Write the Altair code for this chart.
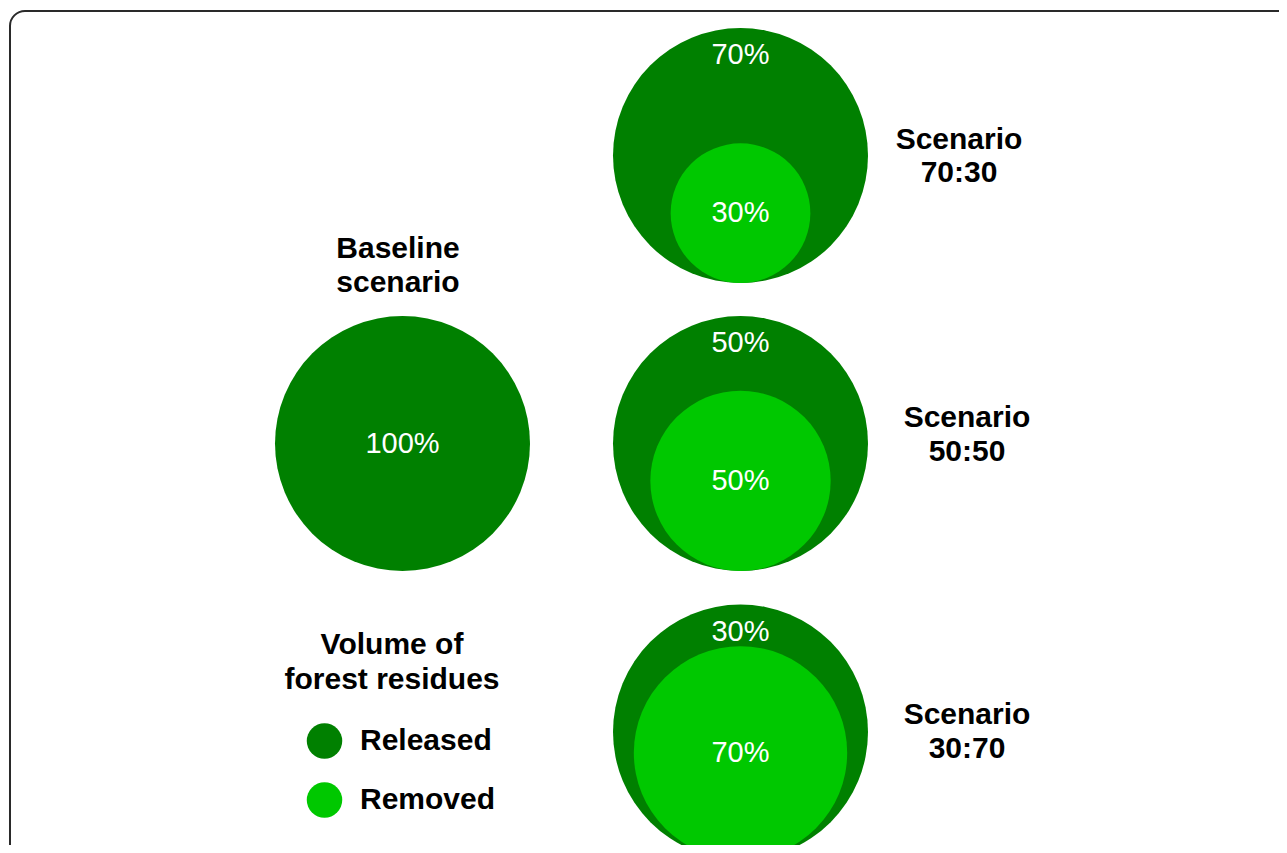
import altair as alt
import pandas as pd
import numpy as np

# ---- data ----
scenarios = ["Baseline", "70:30", "50:50", "30:70"]
released_pct = [100, 70, 50, 30]
removed_pct = [0, 30, 50, 70]
released_labels = ["100%", "70%", "50%", "30%"]
removed_labels = ["", "30%", "50%", "70%"]
title_line1 = ["Baseline", "Scenario", "Scenario", "Scenario"]
title_line2 = ["scenario", "70:30", "50:50", "30:70"]
legend_title = ["Volume of", "forest residues"]
legend_items = ["Released", "Removed"]
colors = ["#008000", "#00c800"]

# ---- layout (page pixels) ----
W, H = 1271, 837
R = 127.5
cx = [402.5, 740.5, 740.5, 740.5]
cy = [443.5, 155.5, 443.5, 732.0]
title_x = [398, 959, 967, 967]
title_y1 = [249, 140, 418, 715]
title_y2 = [283, 173, 452, 749]
legend_title_x = 392
legend_title_y = [645, 680]
legend_dot_x = 324.5
legend_y = [741, 800]
legend_text_x = 360
FONT = "Liberation Sans"

xs = alt.Scale(domain=[8, 8 + W])
ys = alt.Scale(domain=[8, 8 + H], reverse=True)
sz = alt.Scale(type="linear", domain=[0, 100], range=[0, (2 * R) ** 2], zero=True)
col = alt.Scale(domain=legend_items, range=colors)


def X(f="px"):
    return alt.X(f"{f}:Q", scale=xs, axis=None)


def Y(f="py"):
    return alt.Y(f"{f}:Q", scale=ys, axis=None)


outer = pd.DataFrame({
    "scenario": scenarios,
    "px": cx,
    "py": cy,
    "pct": [100] * 4,
    "group": ["Released"] * 4,
})

inner_r = [R * np.sqrt(p / 100.0) for p in removed_pct]
inner = pd.DataFrame({
    "scenario": scenarios,
    "px": cx,
    "py": [c + R - r for c, r in zip(cy, inner_r)],
    "pct": removed_pct,
    "group": ["Removed"] * 4,
})
inner = inner[inner["pct"] > 0]

rel_lab = pd.DataFrame({
    "px": cx,
    "py": [c if rm == 0 else c - R + 27 for c, rm in zip(cy, removed_pct)],
    "label": released_labels,
})
rem_lab = pd.DataFrame({
    "px": inner["px"].tolist(),
    "py": inner["py"].tolist(),
    "label": [l for l, p in zip(removed_labels, removed_pct) if p > 0],
})

titles = pd.DataFrame({
    "px": title_x + title_x + [legend_title_x, legend_title_x],
    "py": title_y1 + title_y2 + legend_title_y,
    "label": title_line1 + title_line2 + legend_title,
})

leg = pd.DataFrame({
    "px": [legend_dot_x] * 2,
    "tx": [legend_text_x] * 2,
    "py": legend_y,
    "group": legend_items,
})

border = alt.Chart(pd.DataFrame({"a": [0]})).mark_rect(
    fillOpacity=0, stroke="#2a2a2a", strokeWidth=2, cornerRadius=15
).encode(
    x=alt.value(2), x2=alt.value(W + 60), y=alt.value(3), y2=alt.value(H + 60)
)

outer_l = alt.Chart(outer).mark_point(filled=True, shape="circle", opacity=1, strokeWidth=0).encode(
    x=X(), y=Y(),
    size=alt.Size("pct:Q", scale=sz, legend=None),
    color=alt.Color("group:N", scale=col, legend=None),
)
inner_l = alt.Chart(inner).mark_point(filled=True, shape="circle", opacity=1, strokeWidth=0).encode(
    x=X(), y=Y(),
    size=alt.Size("pct:Q", scale=sz, legend=None),
    color=alt.Color("group:N", scale=col, legend=None),
)

pct_style = dict(font=FONT, fontSize=29, color="white", align="center", baseline="middle")
rel_text = alt.Chart(rel_lab).mark_text(**pct_style).encode(x=X(), y=Y(), text="label:N")
rem_text = alt.Chart(rem_lab).mark_text(**pct_style).encode(x=X(), y=Y(), text="label:N")

title_text = alt.Chart(titles).mark_text(
    font=FONT, fontSize=30, fontWeight="bold", color="black", align="center", baseline="middle"
).encode(x=X(), y=Y(), text="label:N")

leg_dots = alt.Chart(leg).mark_point(filled=True, shape="circle", opacity=1, strokeWidth=0, size=1260).encode(
    x=X(), y=Y(),
    color=alt.Color("group:N", scale=col, legend=None),
)
leg_text = alt.Chart(leg).mark_text(
    font=FONT, fontSize=30, fontWeight="bold", color="black", align="left", baseline="middle"
).encode(x=X("tx"), y=Y(), text="group:N")

chart = alt.layer(
    border, outer_l, inner_l, rel_text, rem_text, title_text, leg_dots, leg_text
).properties(
    width=W, height=H,
    autosize=alt.AutoSizeParams(type="none"),
    padding=0,
).configure_view(stroke=None)

chart.save("out.html", embed_options={"renderer": "svg", "actions": False})
